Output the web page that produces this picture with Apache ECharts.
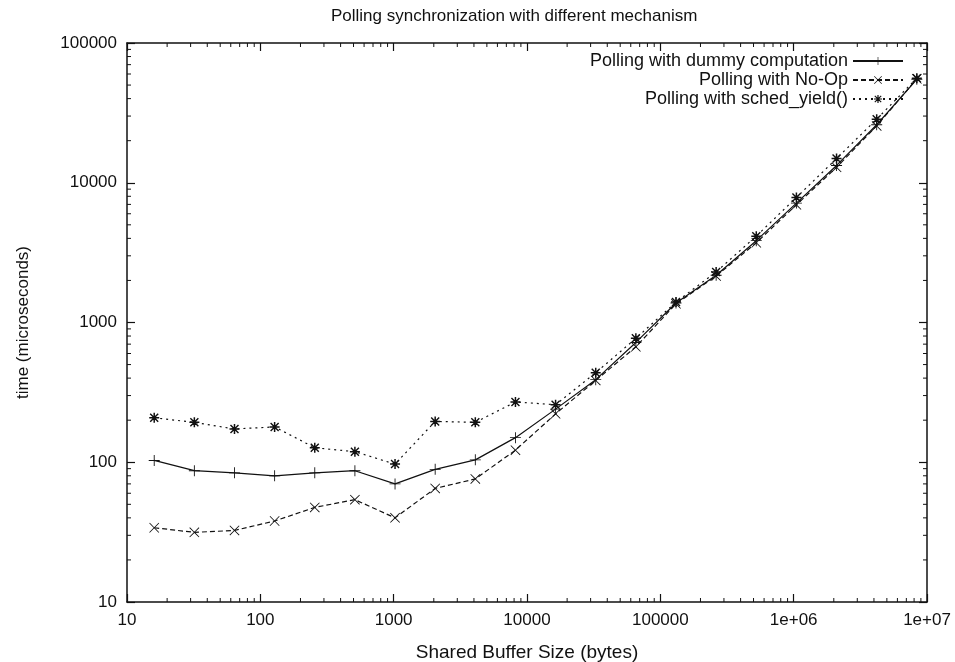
<!DOCTYPE html>
<html>
<head>
<meta charset="utf-8">
<script src="https://cdn.jsdelivr.net/npm/echarts@6/dist/echarts.min.js"></script>
<style>
  html, body { margin: 0; padding: 0; background: #fff; }
  #chart { width: 955px; height: 662px; }
</style>
</head>
<body>
<div id="chart"></div>
<script>
// buffer sizes in bytes
const sizes = [16, 32, 64, 128, 256, 512, 1024, 2048, 4096, 8192, 16384, 32768,
  65536, 131072, 262144, 524288, 1048576, 2097152, 4194304, 8388608];
const dummyTimes = [103, 87, 84, 80, 84, 87, 70, 89, 104, 150, 240, 390,
  720, 1380, 2180, 3850, 7150, 13300, 26000, 55000];
const noopTimes = [34, 31.5, 32.5, 38, 47.5, 54, 40, 65, 76, 122, 222, 385,
  670, 1360, 2150, 3720, 6950, 12900, 25500, 55500];
const yieldTimes = [208, 193, 173, 179, 127, 119, 97, 196, 193, 270, 258, 437,
  770, 1400, 2300, 4150, 7850, 14900, 28500, 56000];
const seriesNames = ['Polling with dummy computation', 'Polling with No-Op', 'Polling with sched_yield()'];

const FONT = '"Liberation Sans", Arial, sans-serif';
const X_MIN = 10, X_MAX = 1e7, Y_MIN = 10, Y_MAX = 100000;

// marker shapes (gnuplot style +, x, *)
const plusPath = 'path://M9.2,0 H10.8 V9.2 H20 V10.8 H10.8 V20 H9.2 V10.8 H0 V9.2 H9.2 Z';
const crossPath = 'path://M0,1.2 L1.2,0 L10,8.8 L18.8,0 L20,1.2 L11.2,10 L20,18.8 L18.8,20 L10,11.2 L1.2,20 L0,18.8 L8.8,10 Z';
const starPath = 'path://M8.5,0 H11.5 V8.5 H20 V11.5 H11.5 V20 H8.5 V11.5 H0 V8.5 H8.5 Z ' +
  'M1,3 L3,1 L10,8 L17,1 L19,3 L12,10 L19,17 L17,19 L10,12 L3,19 L1,17 L8,10 Z';

const toPairs = (ys) => sizes.map((x, i) => [x, ys[i]]);

function makeLine(name, ys, symbol, size, dash) {
  return {
    name: name,
    type: 'line',
    data: toPairs(ys),
    symbol: symbol,
    symbolSize: size,
    showSymbol: true,
    itemStyle: { color: '#111', borderWidth: 0 },
    lineStyle: { color: '#111', width: 1.2, type: dash },
    emphasis: { disabled: true },
    z: 3
  };
}

// minor ticks at 2..9 of every decade, on all four sides
function minorTicks(params, api) {
  const children = [];
  const style = { stroke: '#111', lineWidth: 1 };
  for (let e = 1; e < 7; e++) {
    for (let m = 2; m < 10; m++) {
      const v = m * Math.pow(10, e);
      const b = api.coord([v, Y_MIN]);
      const t = api.coord([v, Y_MAX]);
      children.push({ type: 'line', shape: { x1: b[0], y1: b[1], x2: b[0], y2: b[1] - 4 }, style: style });
      children.push({ type: 'line', shape: { x1: t[0], y1: t[1], x2: t[0], y2: t[1] + 4 }, style: style });
    }
  }
  for (let e = 1; e < 5; e++) {
    for (let m = 2; m < 10; m++) {
      const v = m * Math.pow(10, e);
      const l = api.coord([X_MIN, v]);
      const r = api.coord([X_MAX, v]);
      children.push({ type: 'line', shape: { x1: l[0], y1: l[1], x2: l[0] + 4, y2: l[1] }, style: style });
      children.push({ type: 'line', shape: { x1: r[0], y1: r[1], x2: r[0] - 4, y2: r[1] }, style: style });
    }
  }
  return { type: 'group', children: children };
}

const logAxisBase = {
  type: 'log',
  logBase: 10,
  axisLine: { show: true, lineStyle: { color: '#111', width: 1.5 } },
  axisTick: { show: true, inside: true, length: 8, lineStyle: { color: '#111', width: 1.2 } },
  splitLine: { show: false },
  minorTick: { show: false }
};

const xLabel = (v) => {
  const e = Math.round(Math.log10(v));
  return e >= 6 ? '1e+0' + e : String(Math.pow(10, e));
};
const yLabel = (v) => String(Math.pow(10, Math.round(Math.log10(v))));

const legendItem = (name, top) => ({
  data: [name],
  orient: 'vertical',
  right: 46,
  top: top,
  align: 'right',
  itemWidth: 50,
  itemHeight: 10,
  itemGap: 6,
  selectedMode: false,
  textStyle: { fontFamily: FONT, fontSize: 18, color: '#111' }
});

const chart = echarts.init(document.getElementById('chart'), null, { renderer: 'canvas' });
chart.setOption({
  backgroundColor: '#fff',
  animation: false,
  title: {
    text: 'Polling synchronization with different mechanism',
    left: 326,
    top: 3,
    textStyle: { fontFamily: FONT, fontSize: 17, fontWeight: 'normal', color: '#111' }
  },
  legend: [
    legendItem(seriesNames[0], 47),
    legendItem(seriesNames[1], 66),
    legendItem(seriesNames[2], 85)
  ],
  grid: { left: 127, right: 28, top: 43, bottom: 60, containLabel: false, outerBoundsMode: 'none' },
  xAxis: [
    Object.assign({}, logAxisBase, {
      min: X_MIN, max: X_MAX, interval: 1,
      position: 'bottom',
      name: 'Shared Buffer Size (bytes)',
      nameLocation: 'middle',
      nameGap: 41,
      nameTextStyle: { fontFamily: FONT, fontSize: 19, color: '#111' },
      axisLabel: { formatter: xLabel, margin: 10, fontFamily: FONT, fontSize: 17, color: '#111' }
    }),
    Object.assign({}, logAxisBase, {
      min: X_MIN, max: X_MAX, interval: 1,
      position: 'top',
      axisLabel: { show: false }
    })
  ],
  yAxis: [
    Object.assign({}, logAxisBase, {
      min: Y_MIN, max: Y_MAX, interval: 1,
      position: 'left',
      name: 'time (microseconds)',
      nameLocation: 'middle',
      nameGap: 95,
      nameTextStyle: { fontFamily: FONT, fontSize: 17, color: '#111' },
      axisLabel: { formatter: yLabel, margin: 10, fontFamily: FONT, fontSize: 17, color: '#111' }
    }),
    Object.assign({}, logAxisBase, {
      min: Y_MIN, max: Y_MAX, interval: 1,
      position: 'right',
      axisLabel: { show: false }
    })
  ],
  series: [
    makeLine(seriesNames[0], dummyTimes, plusPath, 11, 'solid'),
    makeLine(seriesNames[1], noopTimes, crossPath, 10, [5, 3]),
    makeLine(seriesNames[2], yieldTimes, starPath, 10, [2, 4]),
    {
      type: 'custom',
      name: 'minor-ticks',
      silent: true,
      renderItem: minorTicks,
      data: [[X_MIN, Y_MIN]],
      z: 1
    }
  ]
});
</script>
</body>
</html>
